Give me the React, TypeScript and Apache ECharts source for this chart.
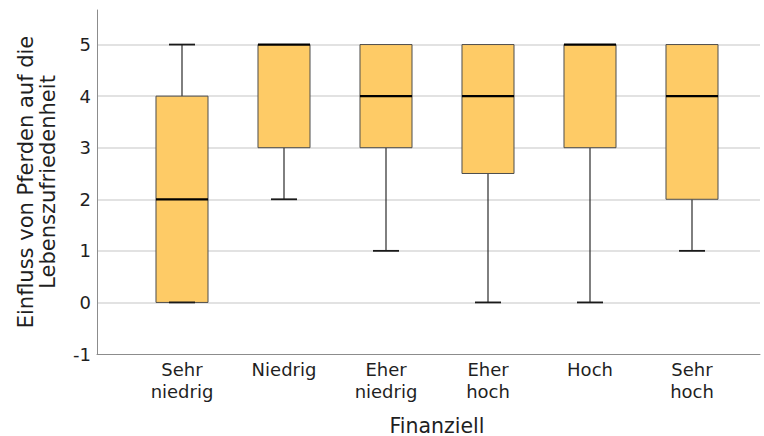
import React, { useEffect, useRef } from "react";
import * as echarts from "echarts";

const categories = ["Sehr\nniedrig", "Niedrig", "Eher\nniedrig", "Eher\nhoch", "Hoch", "Sehr\nhoch"];
const whiskerLow = [0, 2, 1, 0, 0, 1];
const quartile1 = [0, 3, 3, 2.5, 3, 2];
const medians = [2, 5, 4, 4, 5, 4];
const quartile3 = [4, 5, 5, 5, 5, 5];
const whiskerHigh = [5, 5, 5, 5, 5, 5];
const yTicks = [-1, 0, 1, 2, 3, 4, 5];

const Y_MIN = -1;
const Y_MAX = 5.67;
const FONT = "DejaVu Sans";

export default function App() {
  const ref = useRef<HTMLDivElement>(null);
  useEffect(() => {
    const chart = echarts.init(ref.current!, undefined, { renderer: "svg" });
    const data = categories.map((_, i) => [i, whiskerLow[i], quartile1[i], medians[i], quartile3[i], whiskerHigh[i]]);
    const renderItem = (params: any, api: any) => {
      const idx = api.value(0);
      const lo = api.coord([idx, api.value(1)]);
      const q1 = api.coord([idx, api.value(2)]);
      const med = api.coord([idx, api.value(3)]);
      const q3 = api.coord([idx, api.value(4)]);
      const hi = api.coord([idx, api.value(5)]);
      const band = api.size([1, 0])[0];
      const bw = band * 0.51;
      const cw = bw / 2;
      const cx = lo[0];
      const lineStyle = { stroke: "#2b2b2b", lineWidth: 1.2 };
      const capStyle = { stroke: "#1a1a1a", lineWidth: 1.8 };
      const children: any[] = [];
      if (hi[1] < q3[1]) {
        children.push({ type: "line", shape: { x1: cx, y1: q3[1], x2: cx, y2: hi[1] }, style: lineStyle });
        children.push({ type: "line", shape: { x1: cx - cw / 2, y1: hi[1], x2: cx + cw / 2, y2: hi[1] }, style: capStyle });
      }
      if (lo[1] > q1[1]) {
        children.push({ type: "line", shape: { x1: cx, y1: q1[1], x2: cx, y2: lo[1] }, style: lineStyle });
      }
      children.push({
        type: "rect",
        shape: { x: cx - bw / 2, y: q3[1], width: bw, height: q1[1] - q3[1] },
        style: { fill: "#fecb66", stroke: "#4d4d4d", lineWidth: 1 },
      });
      children.push({ type: "line", shape: { x1: cx - cw / 2, y1: lo[1], x2: cx + cw / 2, y2: lo[1] }, style: capStyle });
      children.push({ type: "line", shape: { x1: cx - bw / 2, y1: med[1], x2: cx + bw / 2, y2: med[1] }, style: { stroke: "#000", lineWidth: 2.2 } });
      return { type: "group", children };
    };
    chart.setOption({
      animation: false,
      grid: [
        { left: 97, right: 4, top: 10, bottom: 82, containLabel: false, outerBoundsMode: "none" },
        { left: 131, width: 612, top: 10, bottom: 82, containLabel: false, outerBoundsMode: "none" },
      ],
      xAxis: [
        {
          gridIndex: 0, type: "value", min: 0, max: 1,
          axisLine: { show: true, onZero: false, lineStyle: { color: "#8c8c8c", width: 1 } },
          axisTick: { show: false }, axisLabel: { show: false }, splitLine: { show: false },
        },
        {
          gridIndex: 1, type: "category", data: categories,
          axisLine: { show: false, onZero: false }, axisTick: { show: false },
          axisLabel: { fontFamily: FONT, fontSize: 18, color: "#1f1f1f", lineHeight: 22, margin: 4 },
          name: "Finanziell", nameLocation: "middle", nameGap: 61,
          nameTextStyle: { fontFamily: FONT, fontSize: 20.5, color: "#1f1f1f" },
        },
      ],
      yAxis: [
        {
          gridIndex: 0, type: "value", min: Y_MIN, max: Y_MAX, interval: 1,
          axisLine: { show: true, onZero: false, lineStyle: { color: "#8c8c8c", width: 1 } },
          axisTick: { show: false },
          axisLabel: {
            fontFamily: FONT, fontSize: 18, color: "#1f1f1f", margin: 6, showMaxLabel: false,
            formatter: (v: number) => (yTicks.includes(v) ? String(v) : ""),
          },
          splitLine: { show: true, showMinLine: false, showMaxLine: false, lineStyle: { color: "#d9d9d9", width: 1.5 } },
          name: "Einfluss von Pferden auf die\nLebenszufriedenheit",
          nameLocation: "middle", nameGap: 38,
          nameTextStyle: { fontFamily: FONT, fontSize: 21, color: "#1f1f1f", lineHeight: 22 },
        },
        {
          gridIndex: 1, type: "value", min: Y_MIN, max: Y_MAX, interval: 1, show: false,
        },
      ],
      series: [
        {
          type: "custom", xAxisIndex: 1, yAxisIndex: 1,
          renderItem, data, encode: { x: 0, y: [1, 2, 3, 4, 5] },
        },
      ],
    });
    return () => chart.dispose();
  }, []);
  return <div ref={ref} style={{ width: 764, height: 436, position: "absolute", left: 0, top: 0 }} />;
}
